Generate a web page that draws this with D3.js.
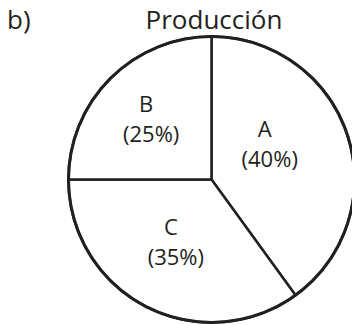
<!DOCTYPE html>
<html><head><meta charset="utf-8">
<script src="https://cdn.jsdelivr.net/npm/d3@7"></script>
<style>body{margin:0;background:#fff}svg{display:block}</style>
</head><body>
<svg id="c" width="352" height="325"></svg>
<script>
const categories = ["A", "C", "B"];
const values = [40, 35, 25];
const title = "Producción";
const panelLabel = "b)";

// label placement (style only): radius and angle shift per slice
const labelPos = {A: {r: 62, da: -8}, C: {r: 80, da: 1.5}, B: {r: 82, da: -5}};

const svg = d3.select("#c");
const cx = 211.5, cy = 179.5, R = 143;
const font = "'Open Sans', sans-serif";
const ink = "#231f20";

svg.append("text").attr("x", 7).attr("y", 28.5).attr("font-family", font)
  .attr("font-size", 26).attr("fill", ink).text(panelLabel);
svg.append("text").attr("x", 214).attr("y", 28.5).attr("text-anchor", "middle")
  .attr("font-family", font).attr("font-size", 26).attr("fill", ink).text(title);

const data = categories.map((c, i) => ({cat: c, v: values[i]}));
const pie = d3.pie().sort(null).value(d => d.v);
const arcs = pie(data);
const arc = d3.arc().innerRadius(0).outerRadius(R);

const g = svg.append("g").attr("transform", `translate(${cx},${cy})`);
g.selectAll("path").data(arcs).join("path")
  .attr("d", arc).attr("fill", "#fff").attr("stroke", ink)
  .attr("stroke-width", 2.5).attr("stroke-linejoin", "round");
g.append("circle").attr("r", R).attr("fill", "none").attr("stroke", ink).attr("stroke-width", 3);

const tot = d3.sum(values);
arcs.forEach(a => {
  const p = labelPos[a.data.cat];
  const ang = (a.startAngle + a.endAngle) / 2 + p.da * Math.PI / 180;
  const x = Math.sin(ang) * p.r, y = -Math.cos(ang) * p.r;
  const t = g.append("text").attr("font-family", font).attr("font-size", 22)
    .attr("fill", ink).attr("text-anchor", "middle");
  t.append("tspan").attr("x", x - 2.5).attr("y", y - 15).text(a.data.cat);
  t.append("tspan").attr("x", x + 2.5).attr("y", y + 15)
    .text("(" + Math.round(a.data.v / tot * 100) + "%)");
});
</script>
</body></html>
